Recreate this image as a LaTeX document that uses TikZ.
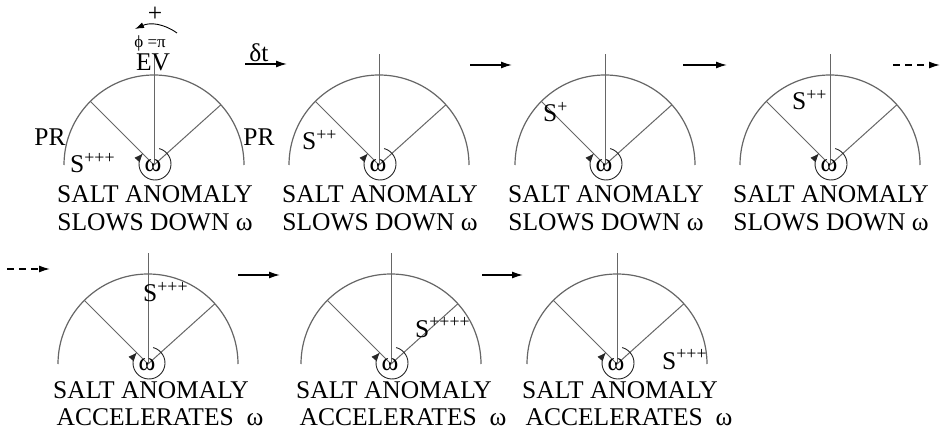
\documentclass[tikz,border=0pt]{standalone}
\usepackage{fontspec}
\setmainfont{Liberation Serif}
\usepackage{tikz}
\usetikzlibrary{arrows.meta,positioning,calc}
\definecolor{rimgray}{HTML}{666666}

\begin{document}
\begin{tikzpicture}[x=1pt, y=1pt, >=Latex,
  every node/.style={font=\fontsize{25.5}{28}\selectfont, inner sep=0pt},
  rim/.style={rimgray, line width=1.2pt},
  spoke/.style={rimgray, line width=1pt},
  spin/.style={black!85, line width=0.9pt, -{Latex[length=9pt,width=7pt]}},
  stepar/.style={-{Latex[length=11pt,width=7pt]}, line width=1.4pt},
  small/.style={font=\fontsize{17}{19}\selectfont}]
  \useasboundingbox (0,0) rectangle (941,431);

  \coordinate (c1) at (154,266);
  \coordinate (c2) at (379,266);
  \coordinate (c3) at (605,266);
  \coordinate (c4) at (830,266);
  \coordinate (c5) at (148,67);
  \coordinate (c6) at (391,67);
  \coordinate (c7) at (617,67);

  \foreach \i in {1,...,7} {
    \draw[rim] ($(c\i)+(90,0)$) arc[start angle=0, end angle=180, radius=90];
    \draw[spoke] (c\i) -- ++(0,111);
    \draw[spoke] (c\i) -- ++(135:90);
    \draw[spoke] (c\i) -- ++(42:90);
    \draw[spin] ($(c\i)+(1,1)+(75:16)$) arc[start angle=75, end angle=-222, radius=16];
    \node (w\i) at ($(c\i)+(-1,-1)$) {ω};
  }

  \foreach \i in {1,...,4} {
    \node (salt\i) at ($(c\i)+(1,-29)$) {SALT ANOMALY};
    \node[below=11pt of salt\i] (slow\i) {SLOWS DOWN ω};
  }
  \foreach \i in {5,6,7} {
    \node (salt\i) at ($(c\i)+(3,-26)$) {SALT ANOMALY};
    \node[below=10pt of salt\i, xshift=9pt] (acc\i) {ACCELERATES\ \ ω};
  }

  \node (ev) at ($(c1)+(-1,103)$) {EV};
  \node[small] (phi) at ($(c1)+(-4,122)$) {ϕ =π};
  \node (plus) at ($(c1)+(1,151)$) {+};
  \coordinate (rotA) at ($(c1)+(23,132)$);
  \coordinate (rotB) at ($(c1)+(-19,136)$);
  \draw[-{Latex[length=9pt,width=6pt]}, line width=0.9pt] (rotA) to[bend right=30] (rotB);
  \node (prl) at ($(c1)+(-104,28)$) {PR};
  \node (prr) at ($(c1)+(105,28)$) {PR};

  \node[anchor=base west] (s1) at ($(c1)+(-84,-8)$) {S\textsuperscript{+++}};
  \node[anchor=base west] (s2) at ($(c2)+(-77,15)$) {S\textsuperscript{++}};
  \node[anchor=base west] (s3) at ($(c3)+(-62,43)$) {S\textsuperscript{+}};
  \node[anchor=base west] (s4) at ($(c4)+(-38,55)$) {S\textsuperscript{++}};
  \node[anchor=base west] (s5) at ($(c5)+(-5,62)$) {S\textsuperscript{+++}};
  \node[anchor=base west] (s6) at ($(c6)+(24,27)$) {S\textsuperscript{++++}};
  \node[anchor=base west] (s7) at ($(c7)+(45,-5)$) {S\textsuperscript{+++}};

  \node (dt) at (259,378) {δt};
  \coordinate (a1) at (245,367);
  \coordinate (b1) at (287,367);
  \coordinate (a2) at (470,366);
  \coordinate (b2) at (512,366);
  \coordinate (a3) at (683,366);
  \coordinate (b3) at (727,366);
  \coordinate (a4) at (893,366);
  \coordinate (b4) at (940,366);
  \coordinate (a5) at (7,162);
  \coordinate (b5) at (50,162);
  \coordinate (a6) at (238,156);
  \coordinate (b6) at (280,156);
  \coordinate (a7) at (482,156);
  \coordinate (b7) at (523,156);
  \draw[stepar] (a1) -- (b1);
  \draw[stepar] (a2) -- (b2);
  \draw[stepar] (a3) -- (b3);
  \draw[stepar, dash pattern=on 7pt off 5pt] (a4) -- (b4);
  \draw[stepar, dash pattern=on 7pt off 5pt] (a5) -- (b5);
  \draw[stepar] (a6) -- (b6);
  \draw[stepar] (a7) -- (b7);
\end{tikzpicture}
\end{document}
